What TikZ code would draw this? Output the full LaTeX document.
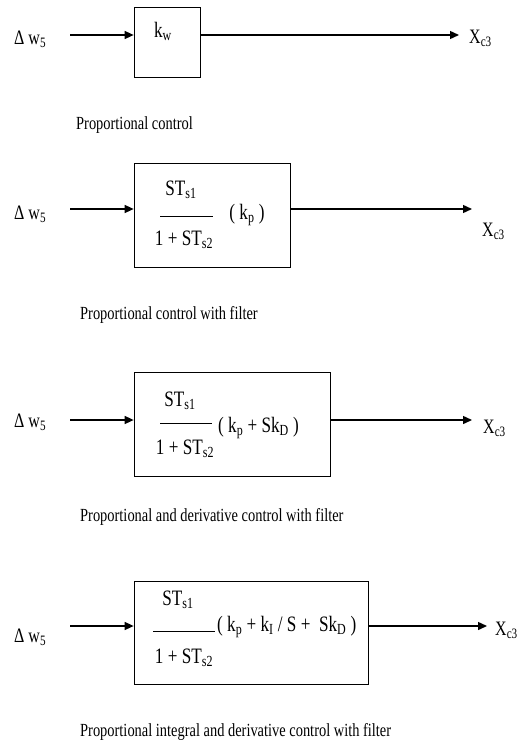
\documentclass[tikz,border=0pt]{standalone}
\usepackage{fontspec}
\setmainfont{Liberation Serif}[FakeStretch=0.78]
\usetikzlibrary{calc,arrows.meta}

\begin{document}
\begin{tikzpicture}[x=1pt, y=-1pt, blk/.style={draw, line width=0.7pt, inner sep=0pt}, sig/.style={line width=1.4pt, -{Triangle[length=9pt, width=8pt]}}, lbl/.style={font=\fontsize{18.5}{21}\selectfont, anchor=west, inner sep=0pt}, io/.style={font=\fontsize{20.5}{23}\selectfont, anchor=west, inner sep=0pt}, tf/.style={font=\fontsize{22}{24}\selectfont, inner sep=0pt}]
\useasboundingbox (0,0) rectangle (519,744);
\node[blk, minimum width=66pt, minimum height=70pt] (k1) at (167,42) {};
\node[tf] (kw) at (163,31) {k\textsubscript{w}};
\node[io] (in1) at (14,39) {Δ w\textsubscript{5}};
\coordinate (s1) at (70,35); \coordinate (e1) at (459,35);
\draw[sig] (s1) -- (s1 -| k1.west); \draw[sig] (s1 -| k1.east) -- (e1);
\node[io] (out1) at (469,38) {X\textsubscript{c3}};
\node[lbl] (cap1) at (76,125) {Proportional control};
\node[blk, minimum width=156pt, minimum height=104pt] (k2) at (212,215) {};
\node[tf] (num2) at (181,190) {ST\textsubscript{s1}}; \node[tf] (den2) at (184,240) {1 + ST\textsubscript{s2}};
\draw[line width=0.7pt] (160,216) -- (213,216);
\node[tf] (g2) at (247,215) {( k\textsubscript{p} )};
\node[io] (in2) at (14,214) {Δ w\textsubscript{5}};
\coordinate (s2) at (70,209); \coordinate (e2) at (472,209);
\draw[sig] (s2) -- (s2 -| k2.west); \draw[sig] (s2 -| k2.east) -- (e2);
\node[io] (out2) at (482,231) {X\textsubscript{c3}};
\node[lbl] (cap2) at (80,315) {Proportional control with filter};
\node[blk, minimum width=196pt, minimum height=104pt] (k3) at (232,424) {};
\node[tf] (num3) at (180,401) {ST\textsubscript{s1}}; \node[tf] (den3) at (185,449) {1 + ST\textsubscript{s2}};
\draw[line width=0.7pt] (160,423) -- (212,423);
\node[tf, anchor=west] (g3) at (218,428) {( k\textsubscript{p} + Sk\textsubscript{D} )};
\node[io] (in3) at (14,422) {Δ w\textsubscript{5}};
\coordinate (s3) at (70,420); \coordinate (e3) at (472,420);
\draw[sig] (s3) -- (s3 -| k3.west); \draw[sig] (s3 -| k3.east) -- (e3);
\node[io] (out3) at (483,428) {X\textsubscript{c3}};
\node[lbl] (cap3) at (80,517) {Proportional and derivative control with filter};
\node[blk, minimum width=234pt, minimum height=103pt] (k4) at (251,632.5) {};
\node[tf] (num4) at (178,600) {ST\textsubscript{s1}}; \node[tf] (den4) at (184,658) {1 + ST\textsubscript{s2}};
\draw[line width=0.7pt] (153,631) -- (215,631);
\node[tf, anchor=west] (g4) at (217,627) {( k\textsubscript{p} + k\textsubscript{I} / S +\ \ Sk\textsubscript{D} )};
\node[io] (in4) at (14,637) {Δ w\textsubscript{5}};
\coordinate (s4) at (70,626); \coordinate (e4) at (487,626);
\draw[sig] (s4) -- (s4 -| k4.west); \draw[sig] (s4 -| k4.east) -- (e4);
\node[io] (out4) at (495,630) {X\textsubscript{c3}};
\node[lbl] (cap4) at (80,732) {Proportional integral and derivative control with filter};
\end{tikzpicture}
\end{document}
